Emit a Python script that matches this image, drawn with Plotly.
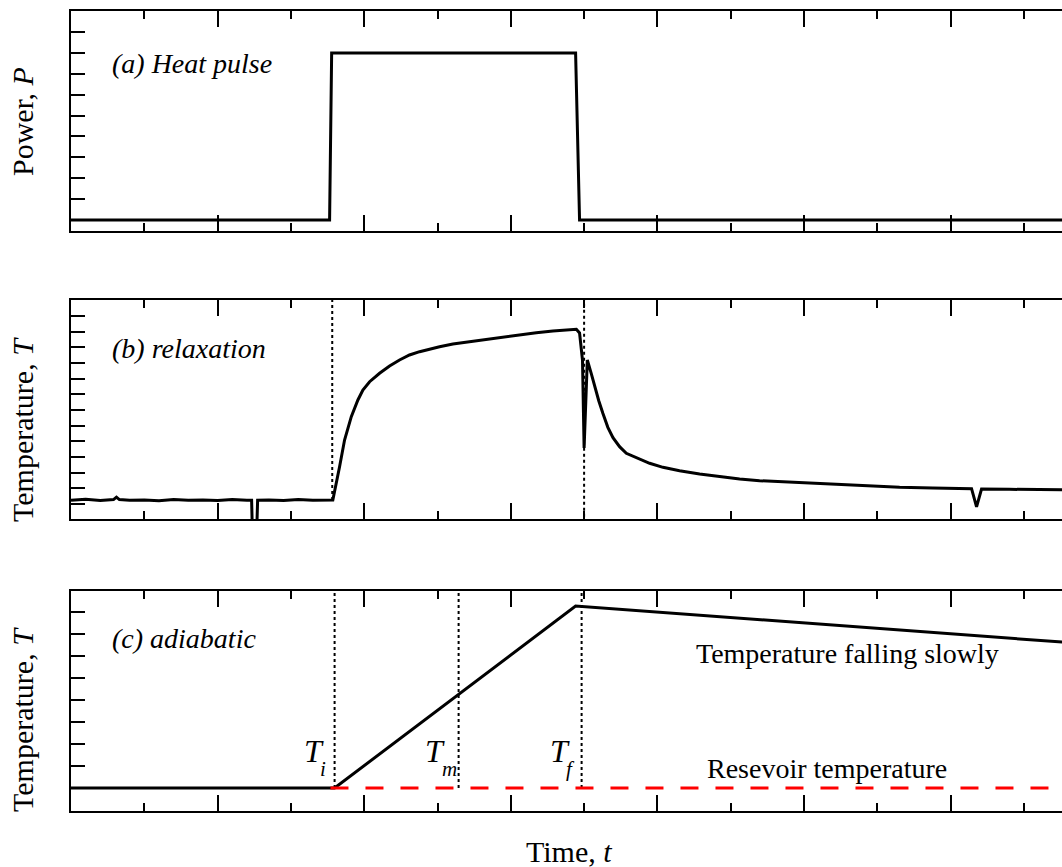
import plotly.graph_objects as go

# ---------------- data (arbitrary units) ----------------
# Panel (a): heater power
pulse_t = [0.0, 1.764, 1.778, 3.442, 3.469, 6.8]
pulse_p = [0.0, 0.0, 1.0, 1.0, 0.0, 0.0]

# Panel (b): relaxation-method temperature trace
relax_t = [0.0, 0.1, 0.2, 0.29, 0.31, 0.33, 0.4, 0.5, 0.6, 0.7, 0.8, 0.9, 1.0, 1.1, 1.2,
           1.232, 1.238, 1.266, 1.273, 1.35, 1.45, 1.55, 1.65, 1.75, 1.786,
           1.832, 1.866, 1.912, 1.957, 1.991, 2.037, 2.105, 2.173, 2.241, 2.309, 2.378,
           2.446, 2.514, 2.605, 2.719, 2.833, 2.924, 3.060, 3.174, 3.287, 3.447,
           3.469, 3.489, 3.500, 3.522, 3.548, 3.572, 3.600, 3.628, 3.662, 3.697, 3.742,
           3.788, 3.856, 3.947, 4.038, 4.151, 4.288, 4.424, 4.561, 4.697, 4.834, 4.970,
           5.129, 5.289, 5.470, 5.652, 5.879, 6.130, 6.143, 6.177, 6.211, 6.4, 6.6, 6.8]
relax_T = [0.12, 0.15, 0.11, 0.14, 0.22, 0.14, 0.12, 0.13, 0.10, 0.14, 0.12, 0.13, 0.11, 0.14, 0.12,
           0.12, -1.0, -1.0, 0.12, 0.13, 0.11, 0.14, 0.12, 0.13, 0.128,
           1.192, 2.045, 2.789, 3.323, 3.642, 3.907, 4.176, 4.409, 4.601, 4.760, 4.866,
           4.952, 5.026, 5.112, 5.185, 5.262, 5.326, 5.399, 5.473, 5.527, 5.581,
           5.463, 4.6, 1.789, 4.601, 4.18, 3.748, 3.30, 2.898, 2.45, 2.12, 1.831,
           1.620, 1.492, 1.300, 1.172, 1.064, 0.958, 0.872, 0.799, 0.744, 0.712, 0.681,
           0.639, 0.607, 0.575, 0.533, 0.511, 0.489, 0.49, -0.09, 0.48, 0.47, 0.46, 0.45]
relax_mark_t = [1.782, 3.500]
relax_mark_bottom = [0.13, -0.6]

# Panel (c): adiabatic-method temperature
adia_t = [0.0, 1.798, 3.442, 6.8]
adia_T = [0.0, 0.0, 4.146, 3.315]
reservoir_t = [1.77, 6.8]
reservoir_T = [0.0, 0.0]
marker_t = [1.798, 2.644, 3.483]
marker_sub = ["i", "m", "f"]
marker_T_x = [1.655, 2.48, 3.336]
marker_sub_x = [1.716, 2.579, 3.405]

# axis ranges
x_range = [0, 6.794]
ya_range = [-0.066, 1.251]
yb_range = [-0.479, 6.518]
yc_range = [-0.524, 4.487]

FONT = "Liberation Serif"
BLACK = "black"

fig = go.Figure()

fig.add_trace(go.Scatter(x=pulse_t, y=pulse_p, mode="lines", xaxis="x", yaxis="y",
                         line=dict(color=BLACK, width=3), showlegend=False))

fig.add_trace(go.Scatter(x=relax_t, y=relax_T, mode="lines", xaxis="x2", yaxis="y2",
                         line=dict(color=BLACK, width=3), showlegend=False))
for t, b in zip(relax_mark_t, relax_mark_bottom):
    fig.add_trace(go.Scatter(x=[t, t], y=[b, 7], mode="lines", xaxis="x2", yaxis="y2",
                             line=dict(color=BLACK, width=2, dash="dot"), showlegend=False))

for t in marker_t:
    fig.add_trace(go.Scatter(x=[t, t], y=[0, 5], mode="lines", xaxis="x3", yaxis="y3",
                             line=dict(color=BLACK, width=2, dash="dot"), showlegend=False))
fig.add_trace(go.Scatter(x=adia_t, y=adia_T, mode="lines", xaxis="x3", yaxis="y3",
                         line=dict(color=BLACK, width=3), showlegend=False))
fig.add_trace(go.Scatter(x=reservoir_t, y=reservoir_T, mode="lines", xaxis="x3", yaxis="y3",
                         line=dict(color="#ff0000", width=3.2, dash="18px,17px"), showlegend=False))

domains = {"a": [0.7336, 0.9873], "b": [0.4014, 0.6540], "c": [0.0646, 0.3183]}
ranges = {"a": ya_range, "b": yb_range, "c": yc_range}
majors = {"a": 0.25, "b": 1.0, "c": 1.0}
n_major = {"a": 4, "b": 6, "c": 4}


def xaxis(anchor):
    return dict(domain=[0, 1], range=x_range, anchor=anchor, showline=True, linewidth=2,
                linecolor=BLACK, mirror="ticks", ticks="inside", ticklen=16, tickwidth=2,
                tickcolor=BLACK, dtick=1, tick0=0, showticklabels=False, showgrid=False,
                zeroline=False,
                minor=dict(ticks="inside", ticklen=8, tickwidth=2, tickcolor=BLACK,
                           dtick=0.5, tick0=0, showgrid=False))


def yaxis_left(key, anchor):
    half = majors[key] / 2
    vals = [i * half for i in range(2 * n_major[key] + 1)]
    if key == "a":
        vals.append(vals[-1] + half)
    return dict(domain=domains[key], range=ranges[key], anchor=anchor, showline=True,
                linewidth=2, linecolor=BLACK, mirror=True, ticks="inside", ticklen=14,
                tickwidth=2, tickcolor=BLACK, tickmode="array", tickvals=vals,
                showticklabels=False, showgrid=False, zeroline=False)


def yaxis_right(key, anchor, over):
    return dict(domain=domains[key], range=ranges[key], anchor=anchor, overlaying=over,
                side="right", showline=False, ticks="inside", ticklen=14, tickwidth=2,
                tickcolor=BLACK, dtick=majors[key], tick0=0, showticklabels=False,
                showgrid=False, zeroline=False,
                minor=dict(ticks="inside", ticklen=7, tickwidth=2, tickcolor=BLACK,
                           dtick=majors[key] / 2, tick0=0, showgrid=False))


fig.update_layout(
    width=1068, height=867,
    margin=dict(l=71, r=1, t=0, b=0),
    paper_bgcolor="white", plot_bgcolor="white",
    font=dict(family=FONT, color=BLACK, size=28),
    xaxis=xaxis("y"), xaxis2=xaxis("y2"), xaxis3=xaxis("y3"),
    yaxis=yaxis_left("a", "x"), yaxis2=yaxis_left("b", "x2"), yaxis3=yaxis_left("c", "x3"),
    yaxis4=yaxis_right("a", "x", "y"), yaxis5=yaxis_right("b", "x2", "y2"),
    yaxis6=yaxis_right("c", "x3", "y3"),
)

ann = []
# panel labels
ann.append(dict(text="<i>(a) Heat pulse</i>", x=0.263, y=0.934, xref="x", yref="y",
                xanchor="left", yanchor="middle", showarrow=False, font=dict(size=28)))
ann.append(dict(text="<i>(b) relaxation</i>", x=0.263, y=4.958, xref="x2", yref="y2",
                xanchor="left", yanchor="middle", showarrow=False, font=dict(size=28)))
ann.append(dict(text="<i>(c) adiabatic</i>", x=0.263, y=3.399, xref="x3", yref="y3",
                xanchor="left", yanchor="middle", showarrow=False, font=dict(size=28)))
ann.append(dict(text="Temperature falling slowly", x=5.30, y=3.057, xref="x3", yref="y3",
                xanchor="center", yanchor="middle", showarrow=False, font=dict(size=28)))
ann.append(dict(text="Resevoir temperature", x=5.154, y=0.437, xref="x3", yref="y3",
                xanchor="center", yanchor="middle", showarrow=False, font=dict(size=28)))
for tx, sx, s in zip(marker_T_x, marker_sub_x, marker_sub):
    ann.append(dict(text="<i>T</i>", x=tx, y=0.848, xref="x3", yref="y3",
                    xanchor="center", yanchor="middle", showarrow=False, font=dict(size=32)))
    ann.append(dict(text="<i>%s</i>" % s, x=sx, y=0.44, xref="x3", yref="y3",
                    xanchor="center", yanchor="middle", showarrow=False, font=dict(size=21)))
# axis titles
title_x = (22 - 71) / 996
ann.append(dict(text="Power, <i>P</i>", x=title_x, y=1 - 122 / 867, xref="paper", yref="paper",
                xanchor="center", yanchor="middle", textangle=-90, showarrow=False,
                font=dict(size=30)))
ann.append(dict(text="Temperature, <i>T</i>", x=title_x, y=1 - 430 / 867, xref="paper",
                yref="paper", xanchor="center", yanchor="middle", textangle=-90,
                showarrow=False, font=dict(size=30)))
ann.append(dict(text="Temperature, <i>T</i>", x=title_x, y=1 - 720 / 867, xref="paper",
                yref="paper", xanchor="center", yanchor="middle", textangle=-90,
                showarrow=False, font=dict(size=30)))
ann.append(dict(text="Time, <i>t</i>", x=0.5005, y=1 - 851.5 / 867, xref="paper", yref="paper",
                xanchor="center", yanchor="middle", showarrow=False, font=dict(size=30)))
fig.update_layout(annotations=ann)

fig.write_html("out.html", config={"displayModeBar": False},
               post_script="document.body.style.margin='0';document.body.style.overflow='hidden';")
